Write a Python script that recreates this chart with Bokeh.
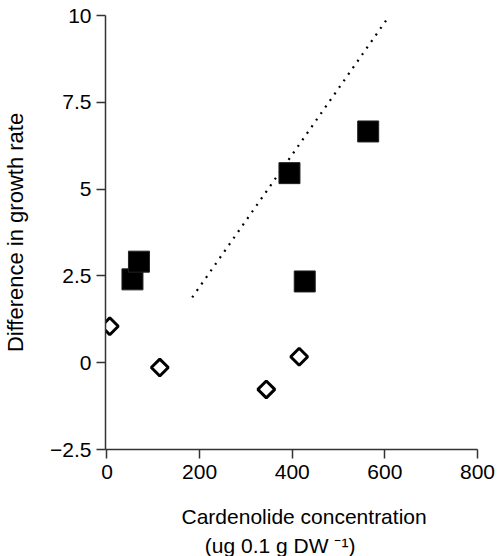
import math
from bokeh.plotting import figure
from bokeh.models import Range1d, FixedTicker, Title
from bokeh.embed import file_html
from bokeh.resources import INLINE

# data
filled_x = [55, 69, 394, 427, 564]
filled_y = [2.40, 2.91, 5.46, 2.34, 6.66]
open_x = [6, 114, 344, 415]
open_y = [1.05, -0.14, -0.77, 0.17]
trend_x = [184, 607]
trend_y = [1.88, 9.94]
x_ticks = [0, 200, 400, 600, 800]
y_ticks = [-2.5, 0, 2.5, 5, 7.5, 10]
y_tick_labels = ["\u22122.5", "0", "2.5", "5", "7.5", "10"]

FONT = "Liberation Sans"

p = figure(frame_width=372, frame_height=434, output_backend="svg", toolbar_location=None,
           x_range=Range1d(-3.2, 800), y_range=Range1d(-2.5, 10),
           min_border_left=104, min_border_right=21, min_border_top=15, min_border_bottom=0)
p.outline_line_color = None
p.grid.visible = False
p.background_fill_color = "white"

for ax in (p.xaxis[0], p.yaxis[0]):
    ax.axis_line_color = "#333333"
    ax.axis_line_width = 1.5
    ax.major_tick_line_color = "#333333"
    ax.major_tick_line_width = 1.5
    ax.major_tick_out = 9
    ax.major_tick_in = 0
    ax.minor_tick_line_color = None
    ax.major_label_text_font = FONT
    ax.major_label_text_font_size = "21px"
    ax.major_label_text_color = "black"

p.xaxis[0].ticker = FixedTicker(ticks=x_ticks)
p.xaxis[0].major_label_standoff = 6
p.yaxis[0].ticker = FixedTicker(ticks=y_ticks)
p.yaxis[0].major_label_overrides = {t: l for t, l in zip(y_ticks, y_tick_labels)}
p.yaxis[0].major_label_standoff = 5
p.yaxis[0].axis_label = "Difference in growth rate"
p.yaxis[0].axis_label_text_font = FONT
p.yaxis[0].axis_label_text_font_size = "22px"
p.yaxis[0].axis_label_text_font_style = "normal"
p.yaxis[0].axis_label_text_color = "black"
p.yaxis[0].axis_label_standoff = 19

p.line(trend_x, trend_y, line_color="black", line_width=2.2, line_dash="2 6")
p.scatter(filled_x, filled_y, marker="square", size=21, fill_color="black",
          line_color="#222222", line_width=1)
p.scatter(open_x, open_y, marker="square", size=12, angle=math.pi / 4,
          fill_color="white", line_color="black", line_width=3)

# x axis title, two lines in one title box
x_title = "Cardenolide concentration\n\u00a0\u00a0\u00a0\u00a0(ug 0.1 g DW \u207b\u00b9)"
t1 = Title(text=x_title, align="left", offset=76, standoff=42,
           text_font=FONT, text_font_size="21px", text_font_style="normal",
           text_line_height=1.25, text_color="black")
p.add_layout(t1, "below")

open("out.html", "w").write(file_html(p, INLINE))
